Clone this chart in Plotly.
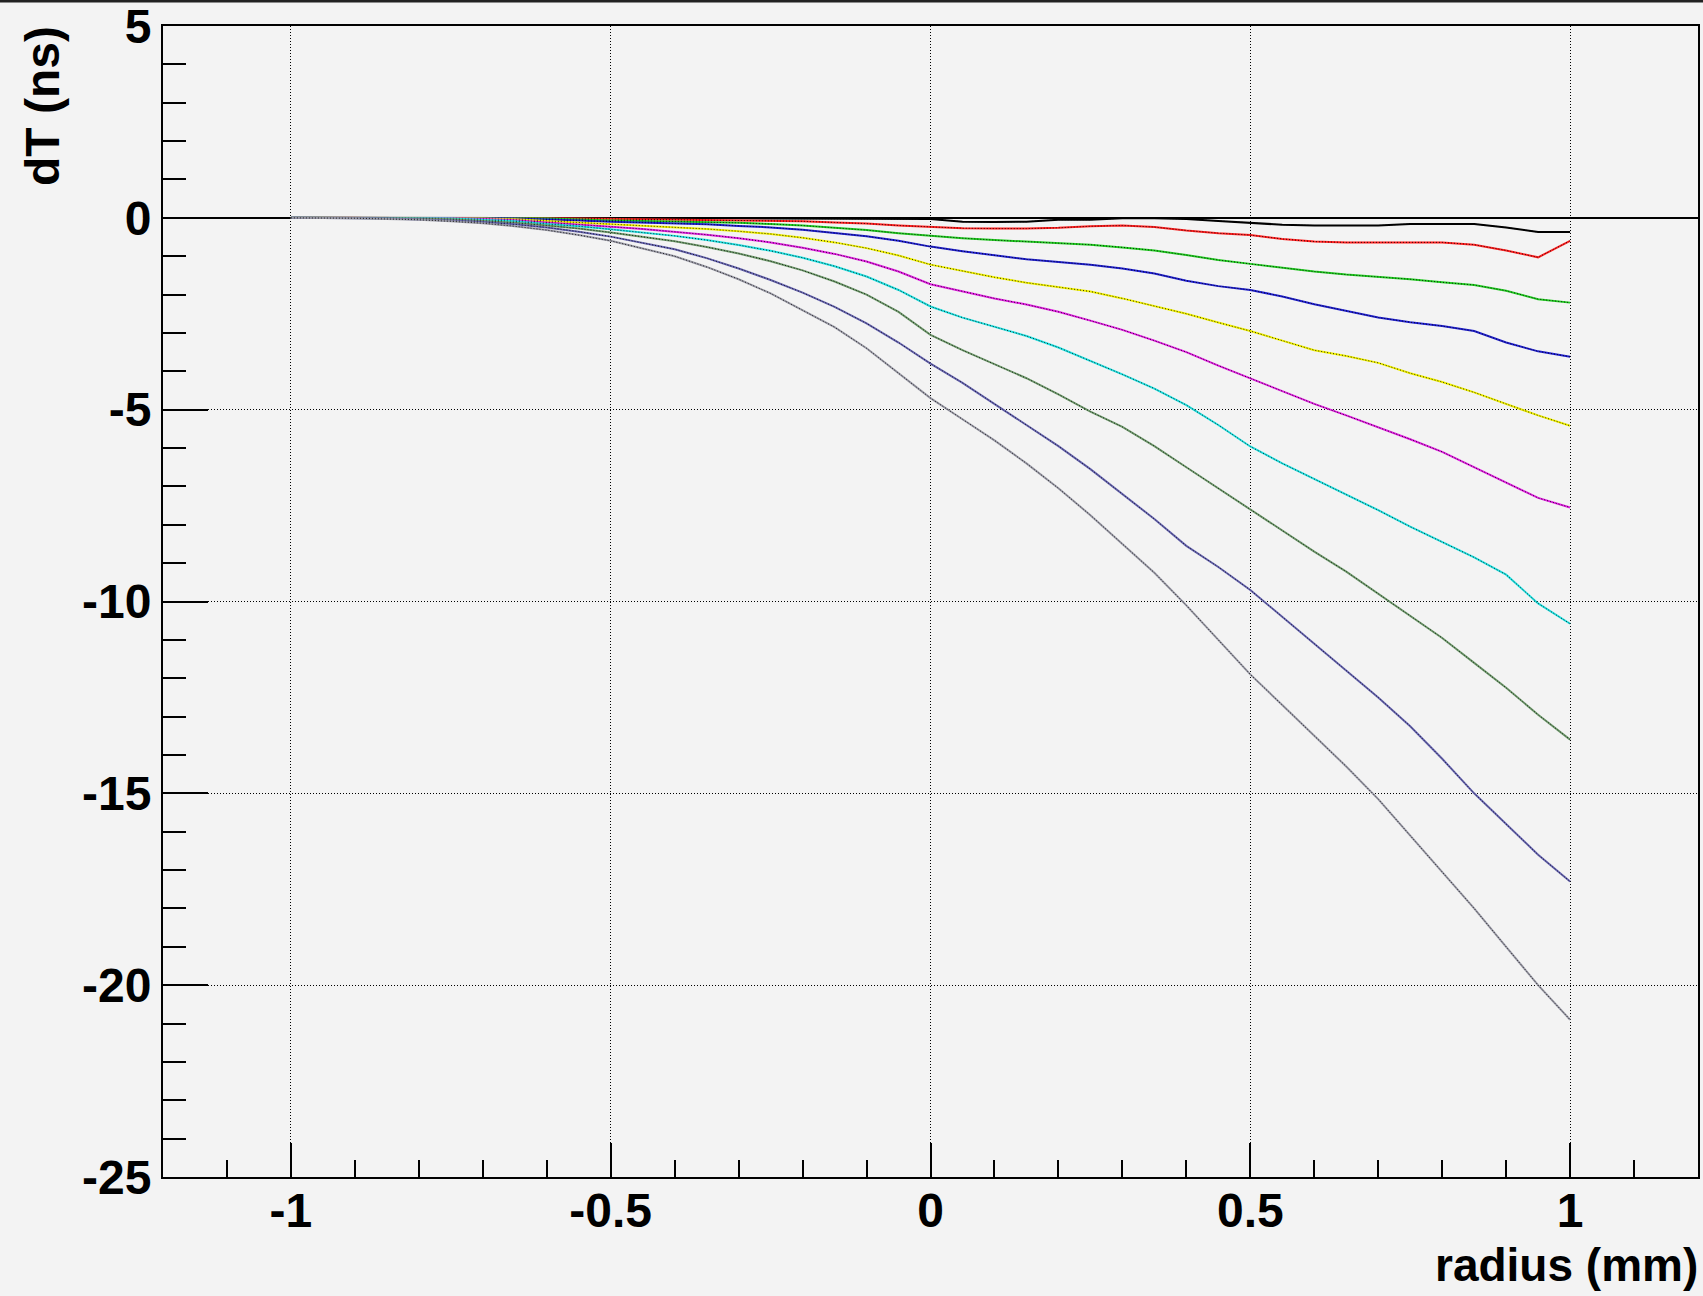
import plotly.graph_objects as go

# ---------------- data ----------------
X = [-1.00, -0.95, -0.90, -0.85, -0.80, -0.75, -0.70, -0.65, -0.60, -0.55,
     -0.50, -0.45, -0.40, -0.35, -0.30, -0.25, -0.20, -0.15, -0.10, -0.05,
     0.00, 0.05, 0.10, 0.15, 0.20, 0.25, 0.30, 0.35, 0.40, 0.45,
     0.50, 0.55, 0.60, 0.65, 0.70, 0.75, 0.80, 0.85, 0.90, 0.95, 1.00]

C1_BLACK = [0, 0, 0, 0, 0, 0, 0, 0, 0, 0,
            0, 0, -0.01, -0.01, -0.01, -0.02, -0.02, -0.02, -0.03, -0.03,
            -0.03, -0.10, -0.11, -0.10, -0.05, -0.05, -0.01, -0.01, -0.03, -0.08,
            -0.13, -0.18, -0.20, -0.20, -0.20, -0.16, -0.16, -0.16, -0.25, -0.37, -0.37]
C2_RED = [0, 0, 0, 0, 0, 0, 0, 0, -0.01, -0.02,
          -0.03, -0.04, -0.05, -0.05, -0.06, -0.07, -0.09, -0.12, -0.15, -0.20,
          -0.24, -0.27, -0.28, -0.28, -0.26, -0.22, -0.20, -0.24, -0.33, -0.40,
          -0.45, -0.55, -0.62, -0.64, -0.64, -0.64, -0.64, -0.70, -0.85, -1.03, -0.60]
C3_GREEN = [0, 0, 0, 0, 0, 0, 0, -0.01, -0.02, -0.05,
            -0.07, -0.08, -0.09, -0.11, -0.13, -0.16, -0.20, -0.26, -0.32, -0.40,
            -0.47, -0.53, -0.58, -0.62, -0.66, -0.70, -0.77, -0.85, -0.97, -1.10,
            -1.20, -1.30, -1.40, -1.48, -1.54, -1.60, -1.68, -1.75, -1.90, -2.12, -2.21]
C4_BLUE = [0, 0, 0, 0, 0, 0, -0.01, -0.02, -0.04, -0.07,
           -0.10, -0.12, -0.14, -0.17, -0.21, -0.25, -0.31, -0.39, -0.48, -0.60,
           -0.75, -0.87, -0.98, -1.08, -1.15, -1.22, -1.32, -1.45, -1.64, -1.78,
           -1.88, -2.05, -2.25, -2.42, -2.60, -2.72, -2.82, -2.95, -3.25, -3.48, -3.62]
C5_YELLOW = [0, 0, 0, 0, 0, -0.01, -0.02, -0.04, -0.08, -0.12,
             -0.16, -0.20, -0.24, -0.29, -0.35, -0.42, -0.52, -0.64, -0.79, -0.98,
             -1.22, -1.38, -1.55, -1.69, -1.80, -1.92, -2.10, -2.30, -2.50, -2.73,
             -2.95, -3.20, -3.45, -3.60, -3.78, -4.05, -4.28, -4.55, -4.85, -5.15, -5.42]
C6_MAGENTA = [0, 0, 0, 0, 0, -0.01, -0.03, -0.06, -0.12, -0.17,
              -0.23, -0.29, -0.36, -0.44, -0.53, -0.64, -0.78, -0.94, -1.14, -1.40,
              -1.73, -1.92, -2.10, -2.26, -2.45, -2.68, -2.92, -3.20, -3.50, -3.85,
              -4.18, -4.50, -4.85, -5.15, -5.45, -5.77, -6.10, -6.50, -6.92, -7.30, -7.55]
C7_CYAN = [0, 0, 0, 0, -0.01, -0.02, -0.05, -0.09, -0.16, -0.22,
           -0.30, -0.38, -0.47, -0.58, -0.71, -0.86, -1.04, -1.26, -1.53, -1.88,
           -2.31, -2.60, -2.85, -3.08, -3.38, -3.72, -4.08, -4.45, -4.88, -5.40,
           -5.96, -6.40, -6.80, -7.22, -7.62, -8.05, -8.45, -8.85, -9.30, -10.05, -10.58]
C8_GREEN2 = [0, 0, 0, -0.01, -0.02, -0.04, -0.08, -0.13, -0.20, -0.28,
             -0.38, -0.49, -0.61, -0.76, -0.93, -1.13, -1.37, -1.66, -2.00, -2.45,
             -3.05, -3.45, -3.82, -4.18, -4.60, -5.05, -5.45, -5.95, -6.50, -7.05,
             -7.61, -8.15, -8.70, -9.22, -9.80, -10.38, -10.95, -11.60, -12.25, -12.95, -13.60]
C9_VIOLET = [0, 0, -0.01, -0.02, -0.04, -0.07, -0.11, -0.17, -0.25, -0.36,
             -0.49, -0.65, -0.82, -1.05, -1.32, -1.62, -1.95, -2.32, -2.75, -3.25,
             -3.80, -4.30, -4.85, -5.40, -5.95, -6.55, -7.20, -7.85, -8.55, -9.10,
             -9.70, -10.40, -11.10, -11.80, -12.50, -13.25, -14.10, -15.00, -15.80, -16.60, -17.30]
C10_GREY = [0, 0, -0.01, -0.03, -0.05, -0.09, -0.14, -0.22, -0.32, -0.45,
            -0.60, -0.80, -1.00, -1.28, -1.60, -1.97, -2.40, -2.85, -3.40, -4.05,
            -4.70, -5.25, -5.80, -6.40, -7.05, -7.75, -8.50, -9.25, -10.10, -11.00,
            -11.90, -12.70, -13.50, -14.30, -15.15, -16.10, -17.05, -18.00, -19.00, -20.00, -20.90]

SERIES = [C1_BLACK, C2_RED, C3_GREEN, C4_BLUE, C5_YELLOW,
          C6_MAGENTA, C7_CYAN, C8_GREEN2, C9_VIOLET, C10_GREY]
COLORS = ["#000000", "#ff2020", "#22cc22", "#2020d0", "#f0f000",
          "#e020e0", "#20e0e0", "#6f9a6c", "#6664b0", "#9a9aa6"]

X_TICKS = [-1, -0.5, 0, 0.5, 1]
X_TICK_TEXT = ["-1", "-0.5", "0", "0.5", "1"]
Y_TICKS = [-25, -20, -15, -10, -5, 0, 5]
Y_TICK_TEXT = ["-25", "-20", "-15", "-10", "-5", "0", "5"]

X_TITLE = "radius (mm)"
Y_TITLE = "dT (ns)"

# ---------------- figure ----------------
BG = "#f3f3f3"
FONT = "Liberation Sans, Arial, Helvetica, sans-serif"

fig = go.Figure()
for ys, col in zip(SERIES, COLORS):
    fig.add_trace(go.Scatter(x=X, y=ys, mode="lines",
                             line=dict(color=col, width=2),
                             hoverinfo="skip", showlegend=False))
    fig.add_trace(go.Scatter(x=X, y=ys, mode="lines",
                             line=dict(color="#000000", width=1, dash="1px,2px"),
                             opacity=0.8, hoverinfo="skip", showlegend=False))

W, H = 1703, 1296
L, R, T, B = 163, 5, 26, 119

fig.update_layout(
    width=W, height=H,
    margin=dict(l=L, r=R, t=T, b=B, pad=0),
    paper_bgcolor=BG, plot_bgcolor=BG,
    showlegend=False,
    xaxis=dict(
        range=[-1.2, 1.2], tickmode="array", tickvals=X_TICKS, ticktext=X_TICK_TEXT,
        ticks="inside", ticklen=34, tickwidth=1.5, tickcolor="black",
        ticklabelstandoff=-10, automargin=False,
        showline=True, linecolor="black", linewidth=2, mirror=True,
        showgrid=True, gridcolor="black", gridwidth=1, griddash="1px,2px",
        zeroline=False,
        tickfont=dict(family=FONT, size=48, color="black", weight="bold"),
        minor=dict(dtick=0.1, tick0=0, ticks="inside", ticklen=17, tickwidth=1.5,
                   tickcolor="black", showgrid=False),
        fixedrange=True,
    ),
    yaxis=dict(
        range=[-25, 5], tickmode="array", tickvals=Y_TICKS, ticktext=Y_TICK_TEXT,
        ticks="inside", ticklen=45, tickwidth=1.5, tickcolor="black",
        ticklabeloverflow="allow", automargin=False,
        showline=True, linecolor="black", linewidth=2, mirror=True,
        showgrid=True, gridcolor="black", gridwidth=1, griddash="1px,2px",
        zeroline=True, zerolinecolor="black", zerolinewidth=1.5,
        tickfont=dict(family=FONT, size=48, color="black", weight="bold"),
        minor=dict(dtick=1, tick0=0, ticks="inside", ticklen=23, tickwidth=1.5,
                   tickcolor="black", showgrid=False),
        fixedrange=True,
    ),
    annotations=[
        dict(text=X_TITLE, xref="paper", yref="paper", x=1, y=0,
             xanchor="right", yanchor="top", xshift=2, yshift=-60, showarrow=False,
             font=dict(family=FONT, size=46, color="black", weight="bold")),
        dict(text=Y_TITLE, xref="paper", yref="paper", x=0, y=1,
             xanchor="center", yanchor="top", xshift=-121, yshift=2, textangle=-90,
             showarrow=False,
             font=dict(family=FONT, size=48, color="black", weight="bold")),
    ],
    shapes=[
        dict(type="line", xref="paper", yref="paper",
             xsizemode="pixel", ysizemode="pixel", xanchor=0, yanchor=1,
             x0=-L, x1=W - L, y0=T - 1, y1=T - 1,
             line=dict(color="#222222", width=3)),
    ],
)

fig.write_html("out.html")
